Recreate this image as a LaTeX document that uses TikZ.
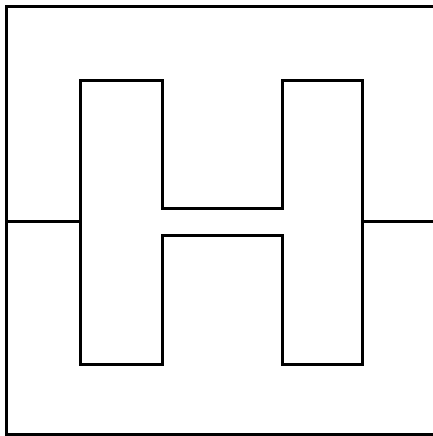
\documentclass[tikz,border=0pt]{standalone}
\begin{document}
\begin{tikzpicture}[x=1pt,y=-1pt,line width=3pt,line join=miter,
  outline/.style={draw=black}]
\useasboundingbox (0,0) rectangle (433,436);
% outer frame (right side runs off the picture)
\draw[outline] (440,6.5) -- (6.5,6.5) -- (6.5,434) -- (440,434);
% H shape
\draw[outline] (80,80) -- (162,80) -- (162,208) -- (282,208) -- (282,80) -- (362,80)
  -- (362,364) -- (282,364) -- (282,235) -- (162,235) -- (162,364) -- (80,364) -- cycle;
% leads
\coordinate (l) at (6.5,221.5);
\coordinate (r) at (440,221.5);
\draw[outline] (l) -- (80,221.5);
\draw[outline] (362,221.5) -- (r);
\end{tikzpicture}
\end{document}
